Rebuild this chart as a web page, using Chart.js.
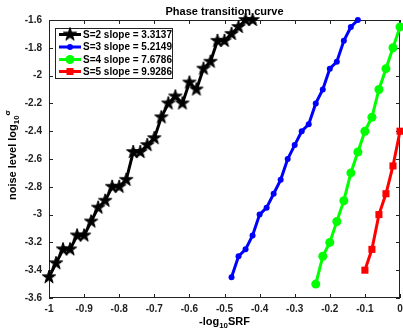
<!DOCTYPE html>
<html>
<head>
<meta charset="utf-8">
<script src="https://cdn.jsdelivr.net/npm/chart.js@4/dist/chart.umd.min.js"></script>
<style>
  body { margin: 0; background: #fff; }
  #wrap { width: 403px; height: 330px; position: relative; }
</style>
</head>
<body>
<div id="wrap"><canvas id="myChart"></canvas></div>
<script>
// values
const xS2 = [-1.00,-0.98,-0.96,-0.94,-0.92,-0.90,-0.88,-0.86,-0.84,-0.82,-0.80,-0.78,-0.76,-0.74,-0.72,
             -0.70,-0.68,-0.66,-0.64,-0.62,-0.60,-0.58,-0.56,-0.54,-0.52,-0.50,-0.48,-0.46,-0.44,-0.42];
const yS2 = [-3.45,-3.35,-3.25,-3.25,-3.15,-3.15,-3.05,-2.95,-2.90,-2.80,-2.80,-2.75,-2.55,-2.55,-2.50,
             -2.45,-2.30,-2.20,-2.15,-2.20,-2.05,-2.10,-1.95,-1.90,-1.75,-1.75,-1.70,-1.65,-1.60,-1.60];
const xS3 = [-0.48,-0.46,-0.44,-0.42,-0.40,-0.38,-0.36,-0.34,-0.32,-0.30,-0.28,-0.26,-0.24,-0.22,-0.20,
             -0.18,-0.16,-0.14,-0.12];
const yS3 = [-3.45,-3.30,-3.25,-3.15,-3.00,-2.95,-2.85,-2.75,-2.60,-2.50,-2.40,-2.35,-2.20,-2.10,-1.95,
             -1.90,-1.75,-1.65,-1.60];
const xS4 = [-0.24,-0.22,-0.20,-0.18,-0.16,-0.14,-0.12,-0.10,-0.08,-0.06,-0.04,-0.02,0];
const yS4 = [-3.50,-3.30,-3.20,-3.05,-2.90,-2.70,-2.55,-2.40,-2.30,-2.10,-1.95,-1.80,-1.65];
const xS5 = [-0.10,-0.08,-0.06,-0.04,-0.02,0];
const yS5 = [-3.40,-3.25,-3.00,-2.85,-2.65,-2.40];

const seriesLabels = ['S=2 slope = 3.3137', 'S=3 slope = 5.2149', 'S=4 slope = 7.6786', 'S=5 slope = 9.9286'];
const xTicks = [-1, -0.9, -0.8, -0.7, -0.6, -0.5, -0.4, -0.3, -0.2, -0.1, 0];
const yTicks = [-3.6, -3.4, -3.2, -3, -2.8, -2.6, -2.4, -2.2, -2, -1.8, -1.6];

const FONT = '"Liberation Sans", Arial, Helvetica, sans-serif';

function pts(xs, ys) {
  return xs.map((v, i) => ({ x: v, y: ys[i] }));
}

// filled pentagram like matlab's 'p' marker
function starPath(ctx, cx, cy, R) {
  const r = R * 0.38;
  ctx.beginPath();
  for (let i = 0; i < 10; i++) {
    const a = -Math.PI / 2 + i * Math.PI / 5;
    const rr = i % 2 ? r : R;
    ctx.lineTo(cx + rr * Math.cos(a), cy + rr * Math.sin(a));
  }
  ctx.closePath();
}
function makeStar(R) {
  const c = document.createElement('canvas');
  const s = Math.ceil(R * 2 + 4);
  c.width = s; c.height = s;
  const g = c.getContext('2d');
  starPath(g, s / 2, s / 2, R);
  g.fillStyle = '#000';
  g.fill();
  g.lineWidth = 1;
  g.strokeStyle = '#000';
  g.stroke();
  return c;
}
const starImg = makeStar(7);

// text with sub/superscripts: parts = [[text, 0|-1|1], ...]
function richText(ctx, parts, x, y, size) {
  let w = 0;
  parts.forEach(p => {
    ctx.font = 'bold ' + (p[1] ? size * 0.72 : size) + 'px ' + FONT;
    w += ctx.measureText(p[0]).width;
  });
  let cx = x - w / 2;
  parts.forEach(p => {
    ctx.font = 'bold ' + (p[1] ? size * 0.72 : size) + 'px ' + FONT;
    const dy = p[1] === -1 ? size * 0.35 : (p[1] === 1 ? -size * 0.45 : 0);
    ctx.fillText(p[0], cx, y + dy);
    cx += ctx.measureText(p[0]).width;
  });
}

const decor = {
  id: 'decor',
  beforeDatasetsDraw(chart) {
    const { ctx, chartArea: a, scales: { x, y } } = chart;
    ctx.save();
    ctx.strokeStyle = '#222';
    ctx.lineWidth = 1;
    ctx.strokeRect(a.left + 0.5, a.top + 0.5, a.right - a.left - 1, a.bottom - a.top - 1);
    ctx.beginPath();
    const tl = 4;
    xTicks.forEach(v => {
      const px = Math.round(x.getPixelForValue(v)) + 0.5;
      ctx.moveTo(px, a.bottom); ctx.lineTo(px, a.bottom - tl);
      ctx.moveTo(px, a.top); ctx.lineTo(px, a.top + tl);
    });
    yTicks.forEach(v => {
      const py = Math.round(y.getPixelForValue(v)) + 0.5;
      ctx.moveTo(a.left, py); ctx.lineTo(a.left + tl, py);
      ctx.moveTo(a.right, py); ctx.lineTo(a.right - tl, py);
    });
    ctx.stroke();
    ctx.restore();
  },
  afterDraw(chart) {
    const { ctx, chartArea: a } = chart;
    ctx.save();
    ctx.fillStyle = '#000';
    ctx.textBaseline = 'middle';
    ctx.textAlign = 'left';

    // title
    richText(ctx, [['Phase transition curve', 0]], (a.left + a.right) / 2, 12, 11);
    // x axis title
    richText(ctx, [['-log', 0], ['10', -1], ['SRF', 0]], (a.left + a.right) / 2, 322, 11);
    // y axis title
    ctx.save();
    ctx.translate(13, 155);
    ctx.rotate(-Math.PI / 2);
    richText(ctx, [['noise level log', 0], ['10', -1], ['\u03C3', 1]], 0, 0, 11);
    ctx.restore();

    // legend box
    const bx = 55.5, by = 28.5, bw = 117, bh = 50;
    ctx.fillStyle = '#fff';
    ctx.fillRect(bx, by, bw, bh);
    ctx.strokeStyle = '#222';
    ctx.lineWidth = 1;
    ctx.strokeRect(bx, by, bw, bh);
    const rows = [34.5, 47, 59.5, 71.5];
    chart.data.datasets.forEach((ds, i) => {
      const ry = rows[i];
      ctx.strokeStyle = ds.borderColor;
      ctx.lineWidth = ds.borderWidth;
      ctx.beginPath();
      ctx.moveTo(59, ry); ctx.lineTo(81, ry);
      ctx.stroke();
      ctx.fillStyle = ds.borderColor;
      const mx = 70;
      if (i === 0) {
        ctx.drawImage(starImg, mx - starImg.width / 2, ry - starImg.height / 2);
      } else if (ds.pointStyle === 'rect') {
        ctx.fillRect(mx - 3.5, ry - 3.5, 7, 7);
      } else {
        ctx.beginPath();
        ctx.arc(mx, ry, ds.pointRadius, 0, Math.PI * 2);
        ctx.fill();
      }
      ctx.fillStyle = '#000';
      ctx.font = 'bold 10px ' + FONT;
      ctx.fillText(ds.label, 83, ry + 0.5);
    });
    ctx.restore();
  }
};

const ctx = document.getElementById('myChart').getContext('2d');
new Chart(ctx, {
  type: 'scatter',
  data: {
    datasets: [
      { label: seriesLabels[0], data: pts(xS2, yS2), showLine: true, borderColor: '#000000', backgroundColor: '#000000',
        borderWidth: 3, pointStyle: starImg, pointRadius: 7, clip: false },
      { label: seriesLabels[1], data: pts(xS3, yS3), showLine: true, borderColor: '#0000ff', backgroundColor: '#0000ff',
        borderWidth: 3, pointStyle: 'circle', pointRadius: 3, pointBorderWidth: 0, clip: false },
      { label: seriesLabels[2], data: pts(xS4, yS4), showLine: true, borderColor: '#00ff00', backgroundColor: '#00ff00',
        borderWidth: 3, pointStyle: 'circle', pointRadius: 4.5, pointBorderWidth: 0, clip: false },
      { label: seriesLabels[3], data: pts(xS5, yS5), showLine: true, borderColor: '#ff0000', backgroundColor: '#ff0000',
        borderWidth: 3, pointStyle: 'rect', pointRadius: 5, pointBorderWidth: 0, clip: false }
    ]
  },
  options: {
    responsive: true,
    maintainAspectRatio: false,
    animation: false,
    layout: { autoPadding: false, padding: { top: 20, right: 3, left: 0, bottom: 0 } },
    plugins: { legend: { display: false }, tooltip: { enabled: false }, title: { display: false } },
    elements: { line: { tension: 0 } },
    scales: {
      x: {
        type: 'linear', min: -1, max: 0,
        afterFit: s => { s.height = 32; s.paddingLeft = 0; s.paddingRight = 0; },
        afterBuildTicks: s => { s.ticks = xTicks.map(v => ({ value: v })); },
        grid: { display: false, drawTicks: false },
        border: { display: false },
        ticks: { padding: 5, color: '#222', font: { family: FONT, size: 10, weight: 'bold' },
                 maxRotation: 0, autoSkip: false, callback: v => String(Math.round(v * 10) / 10) }
      },
      y: {
        type: 'linear', min: -3.6, max: -1.6,
        afterFit: s => { s.width = 49; s.paddingTop = 0; s.paddingBottom = 0; },
        afterBuildTicks: s => { s.ticks = yTicks.map(v => ({ value: v })); },
        grid: { display: false, drawTicks: false },
        border: { display: false },
        ticks: { padding: 7, color: '#222', font: { family: FONT, size: 10, weight: 'bold' },
                 autoSkip: false, callback: v => String(Math.round(v * 10) / 10) }
      }
    }
  },
  plugins: [decor]
});
</script>
</body>
</html>
